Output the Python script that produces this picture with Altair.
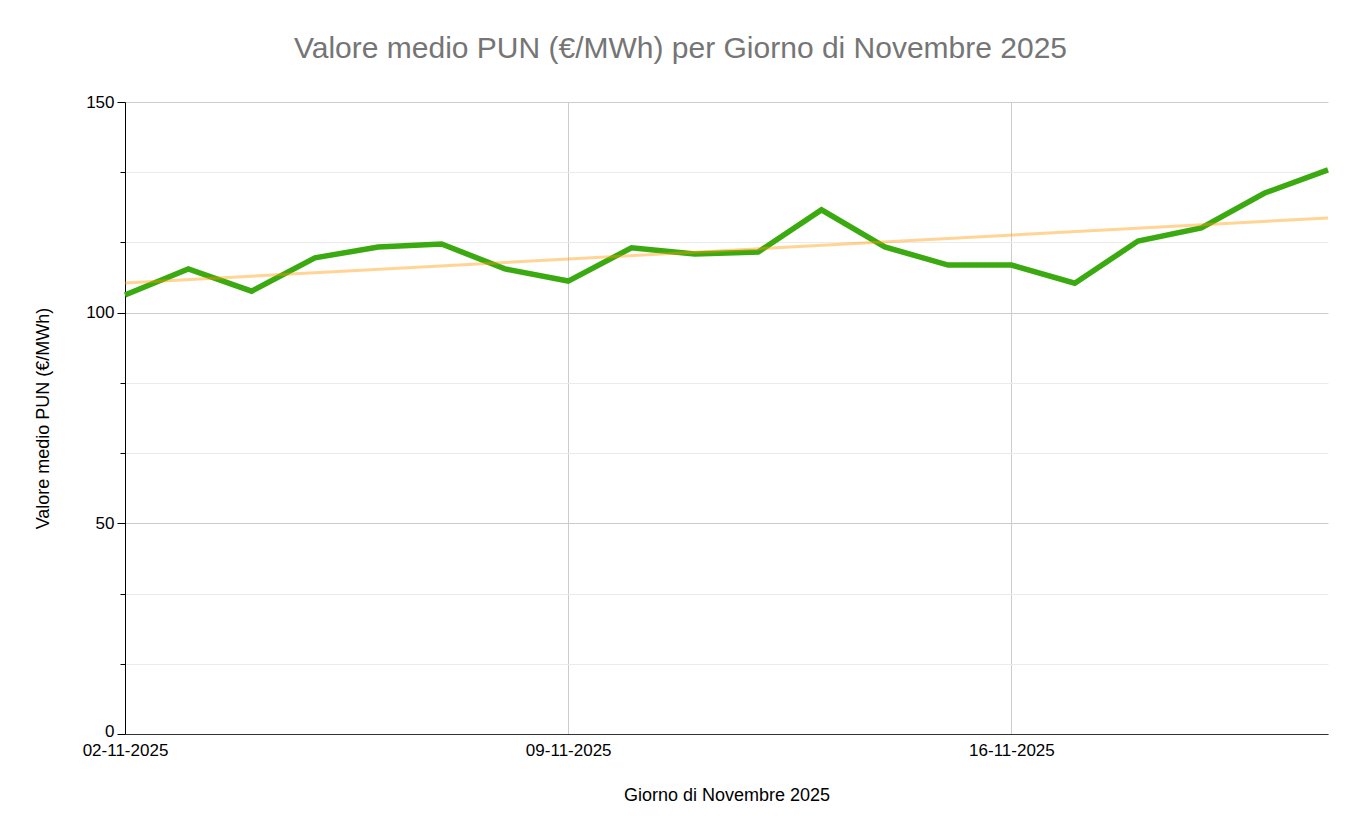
import altair as alt
import pandas as pd

# Days of November 2025 and average PUN value (EUR/MWh)
days = list(range(2, 22))
pun = [104.2, 110.4, 105.1, 113.0, 115.6, 116.3, 110.4, 107.5, 115.4, 113.9,
       114.4, 124.4, 115.6, 111.3, 111.3, 107.0, 117.0, 120.1, 128.4, 133.9]

y_ticks = [0, 50 / 3, 100 / 3, 50, 200 / 3, 250 / 3, 100, 350 / 3, 400 / 3, 150]
x_ticks = [2, 9, 16]

df = pd.DataFrame({"day": days, "pun": pun})

FONT = "Liberation Sans"
major = "abs(datum.value % 50) < 0.001 || abs(datum.value % 50 - 50) < 0.001"

x_enc = alt.X(
    "day:Q",
    scale=alt.Scale(domain=[2, 21], nice=False, zero=False),
    axis=alt.Axis(
        values=x_ticks,
        labelExpr="(datum.value < 10 ? '0' : '') + datum.value + '-11-2025'",
        title="Giorno di Novembre 2025",
        titlePadding=28,
        labelPadding=8,
        labelFlush=False,
        ticks=False,
        gridColor="#cccccc",
        domainColor="#333333",
        labelFont=FONT,
        titleFont=FONT,
        labelFontSize=17,
        titleFontSize=18,
        titleFontWeight="normal",
        labelColor="#000000",
        titleColor="#000000",
    ),
)
y_enc = alt.Y(
    "pun:Q",
    scale=alt.Scale(domain=[0, 150], nice=False),
    axis=alt.Axis(
        values=y_ticks,
        labelExpr=f"({major}) ? format(datum.value, '.0f') : ''",
        title="Valore medio PUN (€/MWh)",
        titlePadding=33,
        labelPadding=3,
        labelOffset={"condition": {"test": "datum.value === 0", "value": -3}, "value": 0},
        gridColor={"condition": {"test": major, "value": "#cccccc"}, "value": "#ebebeb"},
        tickSize={"condition": {"test": major, "value": 8}, "value": 5},
        tickColor="#000000",
        domainColor="#000000",
        labelFont=FONT,
        titleFont=FONT,
        labelFontSize=17,
        titleFontSize=18,
        titleFontWeight="normal",
        labelColor="#000000",
        titleColor="#000000",
    ),
)

base = alt.Chart(df).encode(x=x_enc, y=y_enc)

line = base.mark_line(color="#3aaa10", strokeWidth=5.5)

trend = (
    alt.Chart(df)
    .transform_regression("day", "pun", extent=[2, 21])
    .mark_line(color="#ff9900", strokeWidth=3, opacity=0.42)
    .encode(x="day:Q", y="pun:Q")
)

chart = (
    alt.layer(line, trend)
    .properties(
        width=1203,
        height=632,
        autosize="none",
        padding={"left": 117, "top": 94, "right": 20, "bottom": 80},
        title=alt.Title(
            "Valore medio PUN (€/MWh) per Giorno di Novembre 2025",
            fontSize=30,
            font=FONT,
            fontWeight="normal",
            color="#757575",
            offset=29,
            dx=-46,
        ),
    )
    .configure(font=FONT)
    .configure_view(stroke=None)
)

chart.save("out.html", embed_options={"renderer": "svg", "actions": False})
